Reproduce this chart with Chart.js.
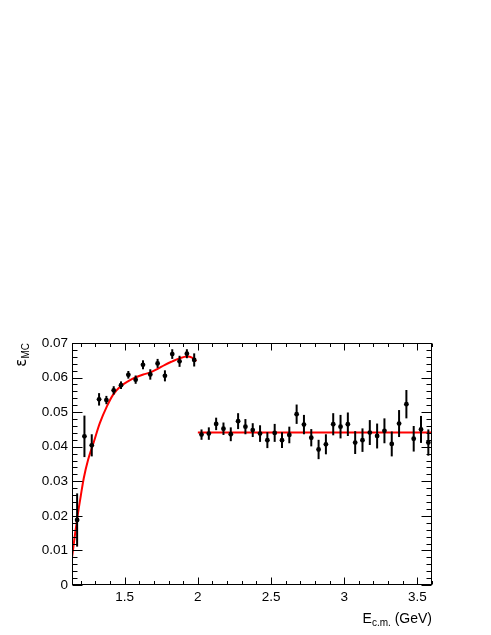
<!DOCTYPE html>
<html><head><meta charset="utf-8">
<script src="https://cdn.jsdelivr.net/npm/chart.js@4.4.1/dist/chart.umd.min.js"></script>
<style>html,body{margin:0;padding:0;background:#fff;overflow:hidden}#wrap{width:491px;height:635px;position:relative}</style>
</head><body><div id="wrap"><canvas id="c" width="491" height="635"></canvas></div>
<script>
// ---- data ----
const lowEnergy = [1.175,1.225,1.275,1.325,1.375,1.425,1.475,1.525,1.575,1.625,1.675,1.725,1.775,1.825,1.875,1.925,1.975];
const lowEff    = [0.0188,0.0430,0.0404,0.0537,0.0535,0.0563,0.0578,0.0608,0.0594,0.0637,0.0609,0.0641,0.0605,0.0668,0.0647,0.0669,0.0651];
const lowErr    = [0.0077,0.0060,0.0032,0.0018,0.0012,0.0012,0.0011,0.0011,0.0012,0.0013,0.0015,0.0013,0.0016,0.0014,0.0016,0.0013,0.0019];

const highEnergy = [2.025,2.075,2.125,2.175,2.225,2.275,2.325,2.375,2.425,2.475,2.525,2.575,2.625,2.675,2.725,2.775,
                    2.825,2.875,2.925,2.975,3.025,3.075,3.125,3.175,3.225,3.275,3.325,3.375,3.425,3.475,3.525,3.575];
const highEff    = [0.0435,0.0438,0.0466,0.0452,0.0436,0.0474,0.0458,0.0448,0.0438,0.0419,0.0440,0.0419,0.0434,0.0494,0.0464,0.0426,
                    0.0392,0.0407,0.0465,0.0458,0.0465,0.0412,0.0419,0.0441,0.0431,0.0446,0.0408,0.0467,0.0523,0.0423,0.0450,0.0412];
const highErr    = [0.0015,0.0018,0.0018,0.0018,0.0020,0.0023,0.0022,0.0020,0.0024,0.0023,0.0026,0.0023,0.0024,0.0028,0.0028,0.0025,
                    0.0028,0.0029,0.0032,0.0034,0.0034,0.0033,0.0034,0.0036,0.0036,0.0036,0.0036,0.0039,0.0041,0.0037,0.0039,0.0038];

const fitLowX  = [1.14,1.16,1.18,1.20,1.22,1.25,1.29,1.33,1.38,1.42,1.47,1.525,1.576,1.627,1.677,1.725,1.775,1.826,1.876,1.926,1.96,1.99];
const fitLowY  = [0.0079,0.0145,0.0205,0.0258,0.0308,0.0362,0.0415,0.0468,0.0518,0.0550,0.0574,0.0590,0.0601,0.0609,0.0615,0.0625,0.0637,0.0647,0.0656,0.0661,0.0658,0.0647];
const fitHighX = [2.0, 3.6];
const fitHighY = [0.0441, 0.0441];

const xTicks = [1.5, 2, 2.5, 3, 3.5];
const xTickLabels = ['1.5', '2', '2.5', '3', '3.5'];
const yTicks = [0, 0.01, 0.02, 0.03, 0.04, 0.05, 0.06, 0.07];
const yTickLabels = ['0', '0.01', '0.02', '0.03', '0.04', '0.05', '0.06', '0.07'];

const xRange = [1.14, 3.6];
const yRange = [0, 0.07];

// ---- helpers ----
const zip = (xs, ys) => xs.map((x, i) => ({x: x, y: ys[i]}));
const FONT = '"Liberation Sans", Arial, sans-serif';
const allPts = lowEnergy.map((x,i)=>({x:x,y:lowEff[i],e:lowErr[i]}))
  .concat(highEnergy.map((x,i)=>({x:x,y:highEff[i],e:highErr[i]})));

const rootFrame = {
  id: 'rootFrame',
  beforeDatasetDraw(chart, args) {
    const ds = chart.data.datasets[args.index];
    if (!ds || !ds.isPoints) return;
    const ctx = chart.ctx, xs = chart.scales.x, ys = chart.scales.y, a = chart.chartArea;
    ctx.save();
    ctx.beginPath();
    ctx.rect(a.left, a.top, a.right - a.left, a.bottom - a.top);
    ctx.clip();
    ctx.strokeStyle = '#000'; ctx.lineWidth = 2;
    ds.errs.forEach(p => {
      const px = xs.getPixelForValue(p.x);
      ctx.beginPath();
      ctx.moveTo(px, ys.getPixelForValue(p.y - p.e));
      ctx.lineTo(px, ys.getPixelForValue(p.y + p.e));
      ctx.stroke();
    });
    ctx.restore();
  },
  afterDraw(chart) {
    const ctx = chart.ctx, a = chart.chartArea, xs = chart.scales.x, ys = chart.scales.y;
    ctx.save();
    ctx.strokeStyle = '#000'; ctx.lineWidth = 1;
    const L = Math.round(a.left) + 0.5, R = Math.round(a.right) - 0.5, T = Math.round(a.top) + 0.5, B = Math.round(a.bottom) - 0.5;
    ctx.strokeRect(L, T, R - L, B - T);
    ctx.beginPath();
    for (let k = Math.ceil(xRange[0] * 10); k <= Math.floor(xRange[1] * 10 + 1e-9); k++) {
      const v = k / 10;
      const major = (k % 5 === 0);
      const len = major ? 7 : 3.5;
      const px = Math.round(xs.getPixelForValue(v)) + 0.5;
      ctx.moveTo(px, B); ctx.lineTo(px, B - len);
      ctx.moveTo(px, T); ctx.lineTo(px, T + len);
    }
    for (let k = 0; k <= 35; k++) {
      const v = k * 0.002;
      const major = (k % 5 === 0);
      const len = major ? 10 : 5;
      const py = Math.round(ys.getPixelForValue(v)) + 0.5;
      ctx.moveTo(L, py); ctx.lineTo(L + len, py);
      ctx.moveTo(R, py); ctx.lineTo(R - len, py);
    }
    ctx.stroke();

    ctx.fillStyle = '#000';
    ctx.textBaseline = 'alphabetic';
    const big = '14px ' + FONT, small = '10px ' + FONT;
    ctx.font = big; const wE = ctx.measureText('E').width; const wG = ctx.measureText(' (GeV)').width;
    ctx.font = small; const wS = ctx.measureText('c.m.').width;
    let x0 = a.right - (wE + wS + wG), by = 623;
    ctx.font = big; ctx.fillText('E', x0, by);
    ctx.font = small; ctx.fillText('c.m.', x0 + wE, by + 3);
    ctx.font = big; ctx.fillText(' (GeV)', x0 + wE + wS, by);

    ctx.translate(26, a.top);
    ctx.rotate(-Math.PI / 2);
    const eps = '15px "DejaVu Sans", ' + FONT, sub = '10px ' + FONT;
    ctx.font = eps; const wEps = ctx.measureText('\u03B5').width;
    ctx.font = sub; const wMC = ctx.measureText('MC').width;
    ctx.font = eps; ctx.fillText('\u03B5', -(wEps + wMC), 0);
    ctx.font = sub; ctx.fillText('MC', -wMC, 3);
    ctx.restore();
  }
};

const chart = new Chart(document.getElementById('c'), {
  type: 'scatter',
  data: {
    datasets: [
      { label: 'MC efficiency', isPoints: true, errs: allPts,
        data: allPts.map(p => ({x: p.x, y: p.y})),
        showLine: false, pointRadius: 2.4, pointHoverRadius: 2.4, pointBorderWidth: 0,
        pointBackgroundColor: '#000', borderColor: '#000', backgroundColor: '#000', order: 0 },
      { label: 'fit low', data: zip(fitLowX, fitLowY), showLine: true, pointRadius: 0,
        borderColor: '#ff0000', borderWidth: 2, cubicInterpolationMode: 'monotone', fill: false, order: 1 },
      { label: 'fit high', data: zip(fitHighX, fitHighY), showLine: true, pointRadius: 0,
        borderColor: '#ff0000', borderWidth: 2, fill: false, order: 1 }
    ]
  },
  options: {
    responsive: false, animation: false, devicePixelRatio: 1,
    layout: { padding: { left: 0, right: 59, top: 343, bottom: 0 } },
    plugins: { legend: { display: false }, tooltip: { enabled: false } },
    scales: {
      x: {
        type: 'linear', min: xRange[0], max: xRange[1],
        afterBuildTicks: s => { s.ticks = xTicks.map(v => ({value: v})); },
        afterFit: s => { s.height = 50; },
        grid: { display: false, drawTicks: false }, border: { display: false },
        ticks: { autoSkip: false, maxRotation: 0, padding: 4, color: '#000',
          font: { family: FONT, size: 13.5 },
          callback: v => { const i = xTicks.indexOf(v); return i >= 0 ? xTickLabels[i] : ''; } }
      },
      y: {
        type: 'linear', min: yRange[0], max: yRange[1],
        afterBuildTicks: s => { s.ticks = yTicks.map(v => ({value: v})); },
        afterFit: s => { s.width = 72; },
        grid: { display: false, drawTicks: false }, border: { display: false },
        ticks: { autoSkip: false, padding: 4, color: '#000',
          font: { family: FONT, size: 13.5 },
          callback: v => { const i = yTicks.findIndex(t => Math.abs(t - v) < 1e-9); return i >= 0 ? yTickLabels[i] : ''; } }
      }
    }
  },
  plugins: [rootFrame]
});
</script></body></html>
